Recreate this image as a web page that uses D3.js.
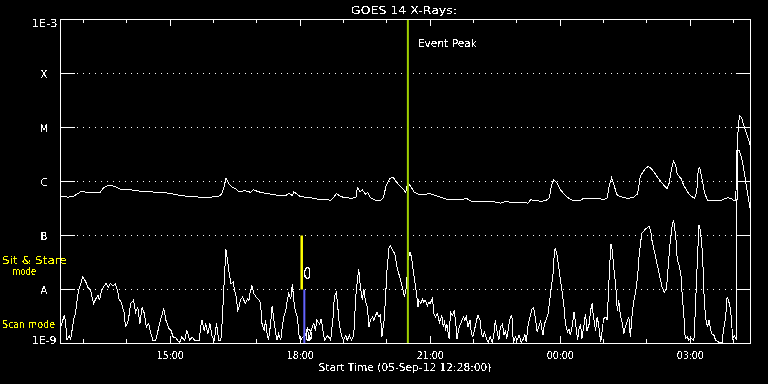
<!DOCTYPE html>
<html><head><meta charset="utf-8">
<script src="https://cdn.jsdelivr.net/npm/d3@7"></script>
<style>html,body{margin:0;padding:0;background:#000;} svg{display:block;}</style>
</head><body>
<svg id="c" width="768" height="384"></svg>
<script>
// ---------- data ----------
const titleText = "GOES 14 X-Rays:";
const startLabel = "Start Time (05-Sep-12 12:28:00)";
const startTime = new Date(2012, 8, 5, 12, 28, 0);
const spanMinutes = 955.4;
const yTickValues = [1e-9, 1e-8, 1e-7, 1e-6, 1e-5, 1e-4, 1e-3];
const yTickLabels = ["1E-9", "A", "B", "C", "M", "X", "1E-3"];
const eventPeakMin = 481;
const eventLabel = "Event Peak";
const sitStareMin = 334;   // yellow marker (1e-8 .. 1e-7)
const scanMin = 337.6;     // blue marker  (1e-9 .. 1e-8)
const modeLabels = ["Sit & Stare", "mode", "Scan mode"];
const markerZeros = ["0", "0"];

// [minutes from start, log10 flux W/m^2]
const xrsLong = [[0,-6.27],[10,-6.29],[17,-6.28],[22,-6.24],[28,-6.19],[32,-6.19],[35,-6.20],[42,-6.20],[55,-6.20],[60,-6.11],[65,-6.08],[72,-6.08],[78,-6.11],[83,-6.14],[90,-6.15],[97,-6.15],[104,-6.17],[118,-6.19],[139,-6.20],[152,-6.22],[166,-6.26],[180,-6.28],[194,-6.29],[208,-6.29],[219,-6.27],[223,-6.24],[227,-6.07],[229,-5.94],[230,-5.96],[233,-6.04],[238,-6.11],[242,-6.13],[247,-6.19],[256,-6.17],[263,-6.20],[267,-6.15],[274,-6.19],[284,-6.22],[298,-6.25],[312,-6.26],[316,-6.22],[321,-6.26],[323,-6.19],[328,-6.24],[332,-6.28],[346,-6.30],[357,-6.33],[367,-6.33],[374,-6.35],[378,-6.30],[382,-6.22],[388,-6.28],[395,-6.30],[402,-6.31],[409,-6.30],[411,-6.11],[415,-6.19],[418,-6.15],[422,-6.24],[425,-6.20],[429,-6.30],[436,-6.35],[443,-6.35],[447,-6.30],[451,-6.07],[456,-5.95],[460,-5.92],[464,-5.98],[468,-6.06],[474,-6.13],[478,-6.20],[481,-6.02],[485,-6.09],[490,-6.20],[496,-6.24],[505,-6.24],[510,-6.22],[519,-6.26],[530,-6.31],[537,-6.34],[554,-6.34],[562,-6.31],[568,-6.36],[575,-6.38],[595,-6.37],[602,-6.38],[609,-6.40],[616,-6.37],[626,-6.39],[637,-6.39],[647,-6.40],[651,-6.34],[658,-6.35],[665,-6.37],[672,-6.35],[677,-6.30],[680,-6.06],[683,-5.97],[687,-6.02],[692,-6.15],[699,-6.26],[706,-6.33],[710,-6.35],[720,-6.35],[724,-6.31],[734,-6.31],[748,-6.32],[752,-6.34],[757,-6.30],[760,-6.07],[763,-5.93],[766,-6.04],[770,-6.24],[775,-6.28],[785,-6.31],[793,-6.30],[799,-6.23],[803,-5.89],[810,-5.76],[814,-5.72],[818,-5.76],[824,-5.87],[831,-6.00],[838,-6.11],[840,-6.13],[843,-6.02],[846,-5.76],[849,-5.62],[852,-5.72],[854,-5.87],[859,-5.94],[863,-6.07],[868,-6.19],[872,-6.26],[878,-6.31],[881,-6.19],[883,-5.78],[885,-5.74],[888,-5.93],[892,-6.22],[896,-6.35],[904,-6.36],[914,-6.36],[921,-6.31],[924,-6.30],[928,-6.31],[932,-6.35],[935,-6.35],[937,-5.26],[940,-4.78],[943,-4.81],[946,-4.96],[950,-5.11],[955,-5.33]];

const xrsShort = [[0,-8.70],[2,-8.63],[5,-8.48],[7,-8.60],[9,-8.94],[12,-8.85],[14,-8.94],[18,-8.57],[21,-8.42],[23,-8.20],[25,-8.02],[28,-7.89],[31,-7.76],[35,-7.86],[38,-7.96],[42,-8.02],[44,-8.17],[46,-8.26],[49,-8.17],[52,-8.11],[54,-8.20],[56,-8.07],[59,-7.96],[63,-7.89],[66,-7.96],[69,-7.89],[73,-7.93],[76,-7.89],[79,-8.02],[81,-8.17],[84,-8.24],[88,-8.42],[90,-8.70],[94,-8.57],[97,-8.26],[101,-8.20],[104,-8.42],[107,-8.33],[110,-8.63],[113,-8.33],[116,-8.44],[119,-8.70],[122,-8.63],[125,-8.81],[128,-8.94],[132,-8.94],[136,-8.70],[139,-8.54],[143,-8.35],[146,-8.57],[150,-8.72],[153,-8.76],[156,-8.88],[159,-8.88],[162,-8.94],[165,-8.98],[168,-8.88],[172,-8.94],[175,-8.76],[179,-8.94],[182,-8.88],[186,-8.94],[189,-8.94],[192,-8.94],
[194,-8.70],[196,-8.57],[199,-8.76],[201,-8.63],[204,-8.82],[207,-8.63],[210,-8.88],[213,-8.94],[216,-8.63],[219,-8.94],[222,-8.94],[224,-8.57],[226,-8.02],[229,-7.26],[231,-7.43],[233,-7.65],[236,-7.89],[239,-7.86],[241,-8.02],[244,-8.17],[245,-8.42],[247,-8.33],[249,-8.20],[252,-8.14],[256,-8.26],[259,-8.17],[261,-8.20],[263,-8.02],[265,-7.93],[268,-8.08],[271,-8.14],[275,-8.20],[277,-8.26],[279,-8.63],[282,-8.76],[284,-8.57],[286,-8.82],[288,-8.94],[291,-8.63],[293,-8.30],[295,-8.51],[298,-8.82],[300,-8.94],[302,-8.82],[305,-8.94],[307,-8.70],[309,-8.51],[312,-8.39],[314,-8.20],[316,-8.08],[319,-8.17],[321,-7.89],[323,-8.20],[325,-8.39],[328,-8.51],[330,-8.82],[332,-8.94],
[336,-8.88],[339,-8.85],[342,-8.70],[344,-8.94],[346,-8.82],[349,-8.67],[351,-8.63],[353,-8.76],[355,-8.57],[359,-8.64],[361,-8.54],[364,-8.82],[366,-8.94],[370,-8.85],[374,-8.94],[378,-8.45],[379,-8.14],[382,-8.05],[384,-8.33],[386,-8.64],[389,-8.85],[392,-8.94],[395,-8.85],[397,-8.94],[400,-8.85],[403,-8.94],[406,-8.85],[409,-8.11],[411,-7.83],[413,-7.62],[415,-7.93],[418,-8.20],[420,-7.99],[422,-8.20],[425,-8.33],[427,-8.70],[429,-8.57],[432,-8.51],[434,-8.57],[438,-8.42],[441,-8.51],[443,-8.45],[445,-8.88],[448,-8.57],[450,-8.17],[452,-7.65],[455,-7.22],[457,-7.19],[459,-7.25],[463,-7.34],[466,-7.59],[471,-7.83],[475,-8.05],[476,-8.14],[479,-7.96],[481,-7.46],[484,-7.31],[486,-7.40],[489,-7.71],[493,-8.08],[495,-8.33],[496,-8.20],[499,-8.26],[501,-8.17],[503,-8.24],[505,-8.20],[508,-8.30],[510,-8.24],[512,-8.26],[515,-8.15],[517,-8.45],[519,-8.51],[522,-8.45],[524,-8.57],[525,-8.61],[528,-8.48],[530,-8.70],[532,-8.57],[533,-8.76],[535,-8.64],[538,-8.91],[540,-8.42],[543,-8.48],[545,-8.39],[547,-8.57],[549,-8.91],[552,-8.70],[554,-8.64],[556,-8.57],[558,-8.51],[560,-8.57],[562,-8.48],[564,-8.70],[567,-8.57],[569,-8.82],[571,-8.88],[574,-8.70],[576,-8.57],[578,-8.48],[581,-8.57],[583,-8.82],[585,-8.88],[587,-8.79],[589,-8.88],[592,-8.98],[595,-8.88],[598,-8.98],[600,-8.85],[602,-8.57],[605,-8.82],[607,-8.94],[609,-8.70],[612,-8.64],[614,-8.85],[616,-8.76],[618,-8.91],[621,-8.64],[623,-8.51],[625,-8.48],[627,-8.98],[630,-8.88],[632,-8.94],[635,-8.85],[638,-8.98],[641,-8.91],[643,-8.82],[645,-8.98],[647,-8.70],[649,-8.57],[651,-8.45],[653,-8.36],[655,-8.33],[658,-8.57],[660,-8.79],[662,-8.70],[665,-8.57],[666,-8.70],[668,-8.85],[670,-8.64],[673,-8.54],[675,-8.45],[677,-8.26],[679,-8.02],[682,-7.71],[684,-7.28],[685,-7.25],[687,-7.31],[690,-7.59],[692,-7.80],[695,-8.08],[697,-8.30],[699,-8.62],[702,-8.79],[704,-8.73],[706,-8.85],[709,-8.64],[711,-8.42],[713,-8.60],[716,-8.94],[718,-8.73],[720,-8.64],[722,-8.91],[725,-8.64],[727,-8.45],[729,-8.76],[732,-8.64],[734,-8.39],[736,-8.26],[738,-8.51],[741,-8.76],[743,-8.51],[745,-8.64],[748,-8.98],[750,-8.76],[752,-8.54],[755,-8.51],[757,-8.57],[759,-7.96],[762,-7.15],[764,-7.28],[766,-7.59],[769,-7.96],[771,-8.39],[773,-8.20],[775,-8.45],[778,-8.64],[780,-8.82],[782,-8.70],[785,-8.57],[787,-8.51],[789,-8.88],[792,-8.39],[794,-8.20],[796,-8.08],[799,-7.77],[801,-7.40],[803,-7.15],[805,-6.96],[810,-6.88],[815,-6.83],[817,-6.90],[819,-7.09],[824,-7.40],[828,-7.65],[833,-7.96],[836,-8.05],[839,-7.99],[841,-7.65],[844,-7.15],[847,-6.81],[849,-6.72],[852,-7.03],[854,-7.46],[856,-7.52],[859,-7.71],[861,-8.14],[863,-8.45],[865,-8.91],[868,-8.88],[870,-8.94],[873,-8.91],[877,-8.94],[879,-8.39],[882,-7.40],[884,-6.81],[886,-6.90],[889,-7.34],[891,-8.08],[893,-8.51],[896,-8.70],[898,-8.57],[900,-8.73],[902,-8.82],[905,-8.85],[907,-8.94],[912,-8.98],[916,-8.98],[918,-8.76],[921,-8.51],[923,-8.14],[925,-8.20],[928,-8.39],[930,-8.76],[931,-8.91],[933,-8.85],[936,-8.94],[937,-5.43],[940,-5.43],[944,-5.61],[948,-5.94],[955,-6.52]];

// ---------- drawing ----------
const svg = d3.select("#c");
const W = 768, H = 384;
const M = {left: 60, right: 750, top: 19, bottom: 343};
const FONT = "'DejaVu Sans', sans-serif";
const tMin = m => new Date(+startTime + m * 60000);
const endTime = tMin(spanMinutes);

const x = d3.scaleTime().domain([startTime, endTime]).range([M.left + 0.5, M.right + 0.5]);
const y = d3.scaleLog().domain([1e-9, 1e-3]).range([M.bottom + 0.5, M.top + 0.5]);

// threshold filter so text looks like the aliased bitmap font of the original
const defs = svg.append("defs");
const f = defs.append("filter").attr("id", "crisp").attr("x", "-10%").attr("y", "-30%").attr("width", "120%").attr("height", "160%");
const ct = f.append("feComponentTransfer");
ct.append("feFuncA").attr("type", "discrete").attr("tableValues", "0 0 1 1");

svg.append("rect").attr("width", W).attr("height", H).attr("fill", "#000");

// dotted gridlines + side ticks
const inner = yTickValues.slice(1, -1);
const g = svg.append("g").attr("shape-rendering", "crispEdges");
inner.forEach(v => {
  const yy = Math.round(y(v) - 0.5) + 0.5;
  g.append("line").attr("x1", M.left).attr("x2", M.left + 15).attr("y1", yy).attr("y2", yy).attr("stroke", "#fff");
  g.append("line").attr("x1", M.right - 14).attr("x2", M.right).attr("y1", yy).attr("y2", yy).attr("stroke", "#fff");
  g.append("line").attr("x1", M.left + 17).attr("x2", M.right - 14).attr("y1", yy).attr("y2", yy)
    .attr("stroke", "#fff").attr("stroke-dasharray", "1,5");
});

// time ticks
const hours = d3.timeHour.every(1).range(startTime, endTime);
hours.forEach(h => {
  const major = h.getHours() % 3 === 0;
  const xx = Math.round(x(h) - 0.5) + 0.5;
  const len = major ? 7 : 4;
  g.append("line").attr("x1", xx).attr("x2", xx).attr("y1", M.top).attr("y2", M.top + len).attr("stroke", "#fff");
  g.append("line").attr("x1", xx).attr("x2", xx).attr("y1", M.bottom).attr("y2", M.bottom - len).attr("stroke", "#fff");
});

const txt = svg.append("g").attr("filter", "url(#crisp)");
const majorHours = hours.filter(h => h.getHours() % 3 === 0);
const fmt = d3.timeFormat("%H:%M");
txt.append("g").selectAll("text").data(majorHours).join("text")
  .attr("x", d => x(d)).attr("y", 359)
  .attr("text-anchor", "middle").attr("fill", "#fff")
  .attr("font-family", FONT).attr("font-size", 10)
  .attr("textLength", 27).attr("lengthAdjust", "spacingAndGlyphs")
  .text(d => fmt(d));

// series
const line = d3.line().x(d => x(tMin(d[0]))).y(d => y(Math.pow(10, d[1])));
svg.append("path").datum(xrsShort).attr("d", line).attr("fill", "none")
  .attr("stroke", "#fff").attr("stroke-width", 1).attr("shape-rendering", "crispEdges");
svg.append("path").datum(xrsLong).attr("d", line).attr("fill", "none")
  .attr("stroke", "#fff").attr("stroke-width", 1).attr("shape-rendering", "crispEdges");

// event peak line
const ex = x(tMin(eventPeakMin));
svg.append("line").attr("x1", ex).attr("x2", ex).attr("y1", y(1e-3)).attr("y2", y(1e-9))
  .attr("stroke", "#a0d000").attr("stroke-width", 2);
txt.append("text").attr("x", ex + 10).attr("y", 47).attr("fill", "#fff")
  .attr("font-family", FONT).attr("font-size", 10)
  .attr("textLength", 59).attr("lengthAdjust", "spacingAndGlyphs").text(eventLabel);

// mode markers
const sx = x(tMin(sitStareMin));
svg.append("line").attr("x1", sx).attr("x2", sx).attr("y1", y(1e-7)).attr("y2", y(1e-8))
  .attr("stroke", "#ffff00").attr("stroke-width", 2.5);
const bx = x(tMin(scanMin));
svg.append("line").attr("x1", bx).attr("x2", bx).attr("y1", y(1e-8)).attr("y2", y(1e-9))
  .attr("stroke", "#6464ff").attr("stroke-width", 2);
txt.append("text").attr("x", sx + 1.5).attr("y", 278.5).attr("fill", "#fff")
  .attr("font-family", FONT).attr("font-size", 15).attr("textLength", 8).attr("lengthAdjust", "spacingAndGlyphs").text(markerZeros[0]);
txt.append("text").attr("x", bx + 0.5).attr("y", 341).attr("fill", "#fff")
  .attr("font-family", FONT).attr("font-size", 15).attr("textLength", 8).attr("lengthAdjust", "spacingAndGlyphs").text(markerZeros[1]);

// frame
svg.append("rect").attr("x", M.left + 0.5).attr("y", M.top + 0.5)
  .attr("width", M.right - M.left).attr("height", M.bottom - M.top)
  .attr("fill", "none").attr("stroke", "#fff").attr("shape-rendering", "crispEdges");

// y labels
yTickValues.forEach((v, i) => {
  const lab = yTickLabels[i];
  const t = txt.append("text").attr("fill", "#fff").attr("font-family", FONT).attr("font-size", 10);
  if (i === yTickValues.length - 1) {
    t.attr("x", 57.5).attr("y", 27).attr("text-anchor", "end").attr("textLength", 26).attr("lengthAdjust", "spacingAndGlyphs");
  } else if (i === 0) {
    t.attr("x", 56.5).attr("y", 344).attr("text-anchor", "end").attr("textLength", 25).attr("lengthAdjust", "spacingAndGlyphs");
  } else {
    t.attr("x", 44).attr("y", y(v) + 4).attr("text-anchor", "middle");
  }
  t.text(lab);
});

// title
txt.append("text").attr("x", 351).attr("y", 13.5).attr("fill", "#fff")
  .attr("font-family", FONT).attr("font-size", 11)
  .attr("textLength", 106).attr("lengthAdjust", "spacingAndGlyphs").text(titleText);

// x title
txt.append("text").attr("x", 318.5).attr("y", 371).attr("fill", "#fff")
  .attr("font-family", FONT).attr("font-size", 10)
  .attr("textLength", 173).attr("lengthAdjust", "spacingAndGlyphs").text(startLabel);

// mode legend (yellow)
const yel = "#ffff00";
txt.append("text").attr("x", 2).attr("y", 263.5).attr("fill", yel).attr("font-family", FONT).attr("font-size", 11)
  .attr("textLength", 65).attr("lengthAdjust", "spacingAndGlyphs").text(modeLabels[0]);
txt.append("text").attr("x", 12.5).attr("y", 275).attr("fill", yel).attr("font-family", FONT).attr("font-size", 10.5)
  .attr("textLength", 23.5).attr("lengthAdjust", "spacingAndGlyphs").text(modeLabels[1]);
txt.append("text").attr("x", 2).attr("y", 327.5).attr("fill", yel).attr("font-family", FONT).attr("font-size", 11)
  .attr("textLength", 53).attr("lengthAdjust", "spacingAndGlyphs").text(modeLabels[2]);
</script>
</body></html>
